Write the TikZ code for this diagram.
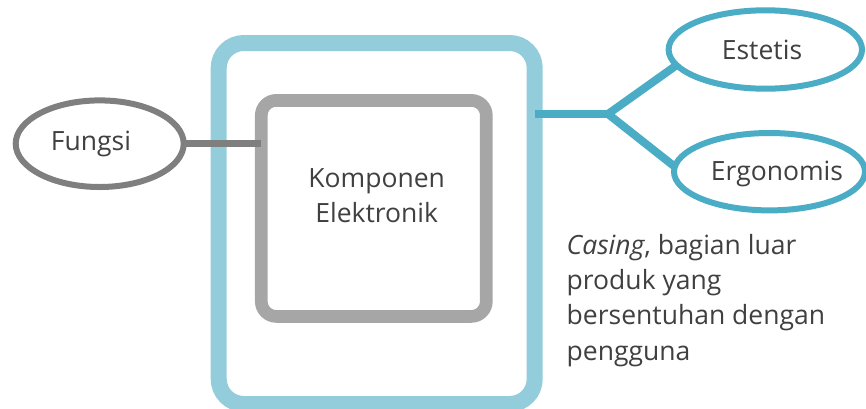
\documentclass[tikz,border=0pt]{standalone}
\usepackage{fontspec}
\setmainfont{Open Sans}
\usetikzlibrary{shapes.geometric}
\definecolor{casingblue}{HTML}{93CDDB}
\definecolor{tealline}{HTML}{4BACC6}
\definecolor{boxgray}{HTML}{A6A6A6}
\definecolor{ovalgray}{HTML}{7F7F7F}
\definecolor{txtgray}{HTML}{404040}
\begin{document}
\begin{tikzpicture}[x=1pt,y=-1pt,
  lbl/.style={font=\fontsize{26.5}{35.2}\selectfont, text=txtgray, inner sep=0pt, outer sep=0pt},
  casingbox/.style={draw=casingblue, line width=16pt, rounded corners=25pt, inner sep=0pt, outer sep=0pt},
  compbox/.style={draw=boxgray, line width=12.7pt, rounded corners=15pt, inner sep=0pt, outer sep=0pt},
  oval/.style={ellipse, line width=6pt, inner sep=0pt, outer sep=0pt, fill=white},
  grayconn/.style={draw=ovalgray, line width=6.5pt},
  tealconn/.style={draw=tealline, line width=8pt},
]
\useasboundingbox (0,0) rectangle (866,408);
\node[casingbox, minimum width=316pt, minimum height=361pt] (casing) at (376.7,223.5) {};
\node[compbox, minimum width=225pt, minimum height=216pt] (komp) at (373.8,208.4) {};
\coordinate (branch) at (608,114);
\draw[grayconn] (99.7,143.7) ++(84,0) coordinate (fe) (fe) -- (fe -| komp.west);
\draw[tealconn] (casing.east |- branch) -- (branch);
\node[oval, draw=ovalgray, minimum width=168pt, minimum height=86.6pt] (fungsi) at (99.7,143.7) {};
\node[oval, draw=tealline, minimum width=193.4pt, minimum height=78.4pt] (estetis) at (765.3,49.5) {};
\node[oval, draw=tealline, minimum width=191pt, minimum height=77.4pt] (ergo) at (769.5,171.7) {};
\draw[tealconn] (branch) -- (estetis.190);
\draw[tealconn] (branch) -- (ergo.177);
\node[lbl, anchor=base] (fungsitxt) at (91,150) {Fungsi};
\node[lbl, anchor=base] (estetistxt) at (762,59.3) {Estetis};
\node[lbl, anchor=base] (ergotxt) at (777,180) {Ergonomis};
\node[lbl, anchor=base, align=center] (komptxt) at (376.7,222.7) {Komponen\\Elektronik};
\node[lbl, anchor=base west, align=left] (casingtxt) at (566.7,360) {\textit{Casing}, bagian luar\\produk yang\\bersentuhan dengan\\pengguna};
\end{tikzpicture}
\end{document}
